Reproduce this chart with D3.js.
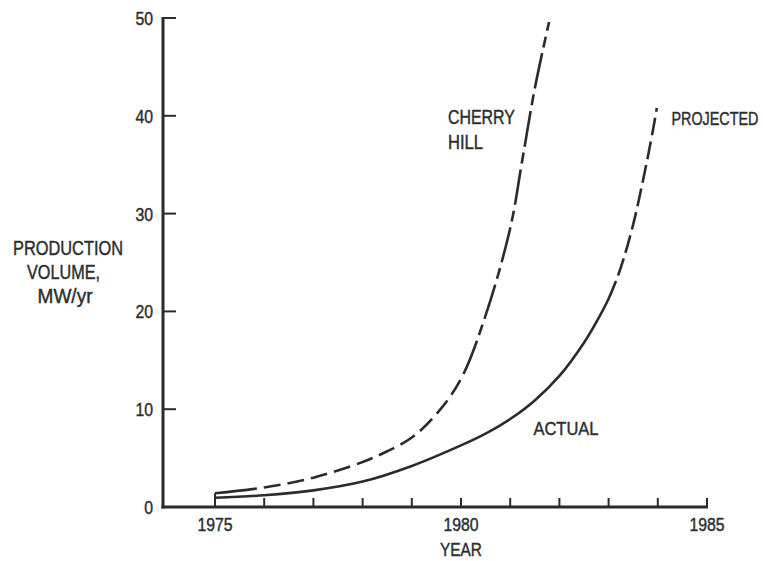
<!DOCTYPE html>
<html>
<head>
<meta charset="utf-8">
<script src="https://cdn.jsdelivr.net/npm/d3@7"></script>
<style>
  html, body { margin: 0; padding: 0; background: #fff; }
  svg text { font-family: "Liberation Sans", Arial, sans-serif; fill: #2e2e2e; stroke: #2e2e2e; stroke-width: 0.45; }
</style>
</head>
<body>
<svg id="chart" width="763" height="561"></svg>
<script>
// ---- data ----
const actualYears  = [1975, 1976, 1977, 1978, 1979, 1980, 1980.5, 1981, 1981.5, 1982, 1982.5, 1982.75, 1983, 1983.15];
const actualValues = [0.95, 1.2, 1.7, 2.6, 4.2, 6.3, 7.5, 9.0, 10.9, 13.4, 16.8, 18.9, 21.3, 23.1];
const projectedYears  = [1983.15, 1983.3, 1983.5, 1983.7, 1983.9, 1983.98];
const projectedValues = [23.1, 25.3, 28.9, 33.4, 38.5, 40.8];
const cherryYears  = [1975, 1976, 1977, 1978, 1978.5, 1979, 1979.5, 1980, 1980.5, 1981, 1981.25, 1981.5, 1981.79];
const cherryValues = [1.4, 2.0, 3.0, 4.6, 5.7, 7.1, 9.5, 13.1, 19.6, 28.5, 35.6, 42.8, 49.6];
const xTickLabels = [1975, 1980, 1985];
const xMinorTicks = [1976, 1977, 1978, 1979, 1980, 1981, 1982, 1983, 1984, 1985];
const yTicks = [0, 10, 20, 30, 40, 50];
const yTitle = ["PRODUCTION", "VOLUME,", "MW/yr"];
const xTitle = "YEAR";

// ---- layout ----
const svg = d3.select("#chart");
const ink = "#2b2b2b";
const x = d3.scaleLinear().domain([1975, 1985]).range([215, 707]);
const y = d3.scaleLinear().domain([0, 50]).range([507, 18]);
const axisX0 = 163;
const digitW = 8.8;

// condensed text: draw, then squeeze horizontally to the measured width
function ctext(str, px, py, size, width, anchor) {
  const g = svg.append("g");
  const t = g.append("text").attr("font-size", size).attr("text-anchor", anchor || "start").text(str);
  const natural = t.node().getComputedTextLength();
  const sx = width / natural;
  g.attr("transform", `translate(${px},${py}) scale(${sx},1)`);
  return t;
}

// axes
svg.append("line").attr("x1", axisX0).attr("x2", axisX0).attr("y1", y(50) - 1).attr("y2", y(0) + 1.5)
  .attr("stroke", ink).attr("stroke-width", 3);
svg.append("line").attr("x1", axisX0 - 1.5).attr("x2", x(1985) + 1).attr("y1", y(0)).attr("y2", y(0))
  .attr("stroke", ink).attr("stroke-width", 3);

// y ticks (inward) and labels
svg.selectAll(".yt").data(yTicks.filter(d => d > 0)).enter().append("line")
  .attr("x1", axisX0).attr("x2", axisX0 + 13).attr("y1", d => y(d)).attr("y2", d => y(d))
  .attr("stroke", ink).attr("stroke-width", 2);
yTicks.forEach(d => ctext(String(d), 153, y(d) + 7, 19, String(d).length * digitW, "end"));

// x ticks (upward)
svg.selectAll(".xt").data(xMinorTicks).enter().append("line")
  .attr("x1", d => x(d)).attr("x2", d => x(d)).attr("y1", y(0)).attr("y2", y(0) - 9)
  .attr("stroke", ink).attr("stroke-width", 2);
// 1975 vertical start line up to Cherry Hill start
svg.append("line").attr("x1", x(1975)).attr("x2", x(1975)).attr("y1", y(0)).attr("y2", y(cherryValues[0]))
  .attr("stroke", ink).attr("stroke-width", 2);
xTickLabels.forEach(d => ctext(String(d), x(d), 531, 19, String(d).length * digitW, "middle"));
ctext(xTitle, x(1980), 556, 19, 42, "middle");

// y title
const titleW = [110, 73, 55];
const titleX = [68, 63.5, 65];
yTitle.forEach((d, i) => ctext(d, titleX[i], 254.5 + i * 24, 20, titleW[i], "middle"));

// ---- curves ----
const line = d3.line().x(d => x(d[0])).y(d => y(d[1])).curve(d3.curveCatmullRom.alpha(0.5));

function lengthAtX(path, xv) {
  const L = path.getTotalLength();
  let lo = 0, hi = L;
  for (let i = 0; i < 40; i++) {
    const mid = (lo + hi) / 2;
    if (path.getPointAtLength(mid).x < xv) lo = mid; else hi = mid;
  }
  return lo;
}

// Actual + projected as one smooth path
const apData = actualYears.map((d, i) => [d, actualValues[i]])
  .concat(projectedYears.slice(1).map((d, i) => [d, projectedValues[i + 1]]));
const ap = svg.append("path").attr("d", line(apData)).attr("fill", "none")
  .attr("stroke", ink).attr("stroke-width", 2.6).attr("stroke-linecap", "butt");
{
  const p = ap.node(), L = p.getTotalLength();
  const solid = lengthAtX(p, x(projectedYears[0]));
  const arr = [solid, 6];
  let pos = solid + 6;
  while (pos < L) { arr.push(18, 6); pos += 24; }
  ap.attr("stroke-dasharray", arr.join(","));
}

// Cherry Hill
const chData = cherryYears.map((d, i) => [d, cherryValues[i]]);
const ch = svg.append("path").attr("d", line(chData)).attr("fill", "none")
  .attr("stroke", ink).attr("stroke-width", 2.6).attr("stroke-linecap", "butt");
{
  const p = ch.node(), L = p.getTotalLength();
  const solid = lengthAtX(p, x(1975.85));
  const switchAt = lengthAtX(p, x(1979.9));
  const arr = [solid, 7];
  let pos = solid + 7;
  while (pos < switchAt) { arr.push(17, 7); pos += 24; }
  while (pos < L) { arr.push(36, 6, 11, 6); pos += 59; }
  ch.attr("stroke-dasharray", arr.join(","));
}

// curve labels
ctext("CHERRY", 448, 124, 19.5, 67);
ctext("HILL", 448, 148.5, 19.5, 35);
ctext("PROJECTED", 671.5, 125, 19, 87);
ctext("ACTUAL", 533.5, 435, 19, 65);
</script>
</body>
</html>
